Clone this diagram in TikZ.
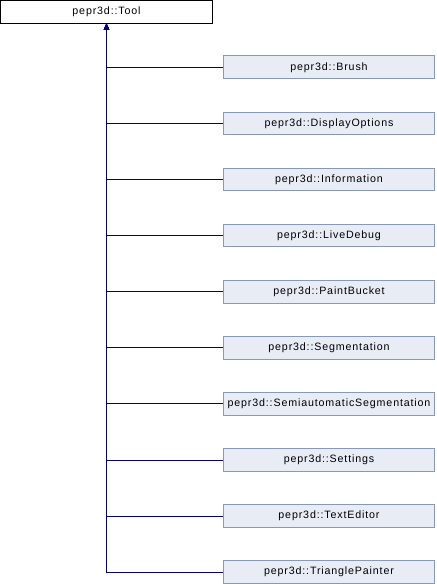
\documentclass[tikz,border=0pt]{standalone}
\usepackage{fontspec}
\newfontfamily\labfont[LetterSpace=8]{Liberation Sans}
\usetikzlibrary{arrows.meta}
\definecolor{boxfill}{HTML}{E8ECF5}
\definecolor{boxline}{HTML}{8898BC}
\definecolor{edgecol}{HTML}{000080}
\tikzset{
  basebox/.style={draw=black, fill=white, line width=0.75pt, minimum width=159pt, minimum height=16.9pt, inner sep=0pt, font=\labfont\fontsize{8}{9}\selectfont},
  derivedbox/.style={draw=boxline, fill=boxfill, line width=0.75pt, minimum width=158.25pt, minimum height=17pt, inner sep=0pt, font=\labfont\fontsize{8}{9}\selectfont},
  inherit/.style={draw=edgecol, line width=0.75pt, -{Triangle[length=4.5pt,width=3.8pt]}}
}
\begin{document}
\begin{tikzpicture}[x=0.75pt,y=-0.75pt]
\useasboundingbox (0,0) rectangle (436,584);
\node[basebox] (tool) at (106.5,11.8) {pepr3d::Tool};
\node[derivedbox] (c0) at (329,67.3) {pepr3d::Brush};
\node[derivedbox] (c1) at (329,123.4) {pepr3d::DisplayOptions};
\node[derivedbox] (c2) at (329,179.5) {pepr3d::Information};
\node[derivedbox] (c3) at (329,235.6) {pepr3d::LiveDebug};
\node[derivedbox] (c4) at (329,291.7) {pepr3d::PaintBucket};
\node[derivedbox] (c5) at (329,347.8) {pepr3d::Segmentation};
\node[derivedbox] (c6) at (329,403.9) {pepr3d::SemiautomaticSegmentation};
\node[derivedbox] (c7) at (329,460.0) {pepr3d::Settings};
\node[derivedbox] (c8) at (329,516.1) {pepr3d::TextEditor};
\node[derivedbox] (c9) at (329,572.2) {pepr3d::TrianglePainter};
\foreach \i in {0,...,9} {
  \draw[inherit] (c\i.west) -| (tool.south);
}
\end{tikzpicture}
\end{document}
